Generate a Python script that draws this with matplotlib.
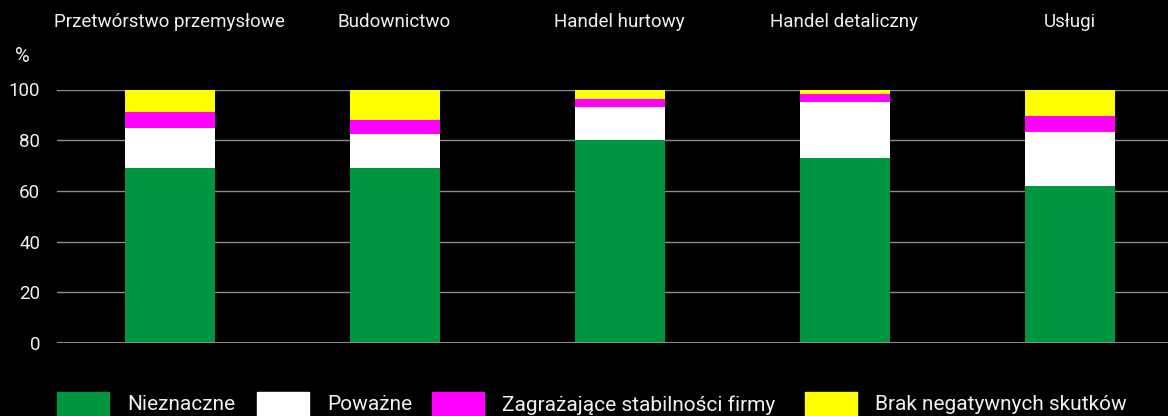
import numpy as np
import matplotlib
matplotlib.use("Agg")
import matplotlib.pyplot as plt
from matplotlib.patches import Rectangle
from matplotlib.transforms import blended_transform_factory

plt.rcParams['font.family'] = ['Roboto', 'DejaVu Sans']

# dane
categories = ["Przetwórstwo przemysłowe", "Budownictwo", "Handel hurtowy",
              "Handel detaliczny", "Usługi"]
nieznaczne = [69, 69, 80, 73, 62]
powazne = [16, 13.6, 13.2, 22.2, 21.2]
zagrazajace = [6, 5.4, 3.1, 3.2, 6.3]
brak = [9, 12, 3.7, 1.6, 10.5]
series_labels = ["Nieznaczne", "Poważne", "Zagrażające stabilności firmy",
                 "Brak negatywnych skutków"]
colors = ["#009640", "#ffffff", "#ff00ff", "#ffff00"]
yticks = [0, 20, 40, 60, 80, 100]

W, H = 1168, 416
fig = plt.figure(figsize=(W / 100, H / 100), dpi=100, facecolor="black")
ax = fig.add_axes([57 / W, (H - 343) / H, 1 - 57 / W, (343 - 89.5) / H])
ax.set_facecolor("black")

x = np.arange(len(categories))
series = [nieznaczne, powazne, zagrazajace, brak]
bottom = np.zeros(len(categories))
for vals, col, lab in zip(series, colors, series_labels):
    ax.bar(x, vals, width=0.4, bottom=bottom, color=col, label=lab,
           edgecolor="none", zorder=3)
    bottom += np.array(vals)

ax.set_ylim(0, 100)
ax.set_xlim(-0.5, -0.5 + (W - 57) / 225)
ax.set_yticks(yticks)
ax.set_xticks([])
ax.tick_params(axis="y", length=0, pad=12, labelsize=13.5, colors="#f0f0f0")
for s in ax.spines.values():
    s.set_visible(False)
ax.grid(axis="y", color="#8c8c8c", linewidth=1, zorder=1)
ax.axhline(0, color="#8c8c8c", linewidth=1.5, zorder=4)

# nazwy kategorii nad słupkami
tr = blended_transform_factory(ax.transData, ax.transAxes)
for xi, name in zip(x, categories):
    ax.text(xi, 1.266, name, transform=tr, ha="center", va="center",
            color="#f0f0f0", fontsize=13.5)

fig.text(22 / W, 1 - 57 / H, "%", ha="center", va="center", color="#f0f0f0",
         fontsize=14.5)

# legenda
patch_x = [57, 257, 432, 805]
for px, col, lab in zip(patch_x, colors, series_labels):
    fig.patches.append(Rectangle((px / W, 0), 52 / W, 24 / H, color=col,
                                 transform=fig.transFigure))
    fig.text((px + 70) / W, 1 - 405 / H, lab, ha="left", va="center",
             color="#f0f0f0", fontsize=15)

fig.savefig("out.png", dpi=100, facecolor="black")
